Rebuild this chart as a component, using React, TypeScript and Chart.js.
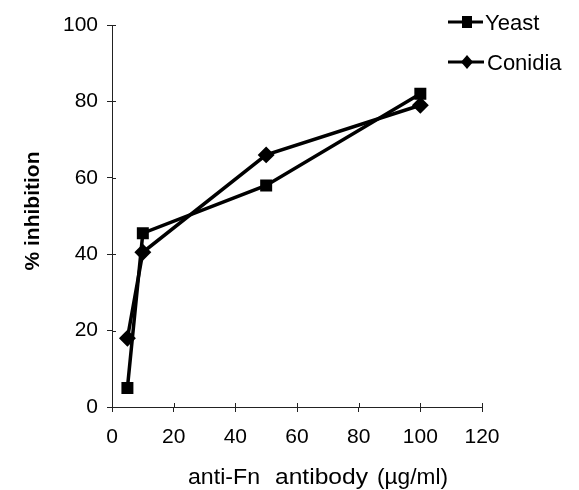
import React, { useEffect, useRef } from "react";
import { Chart, registerables } from "chart.js";

Chart.register(...registerables);

const doses = [5, 10, 50, 100];
const yeastValues = [5, 45.5, 58, 82];
const conidiaValues = [18, 40.5, 66, 79];
const xTicks = [0, 20, 40, 60, 80, 100, 120];
const yTicks = [0, 20, 40, 60, 80, 100];
const seriesNames = ["Yeast", "Conidia"];
const xTitleParts = ["anti-Fn", "antibody", "(\u00b5g/ml)"];
const yTitle = "% inhibition";

const FONT = "'Liberation Sans', Arial, sans-serif";

function drawFit(ctx: any, text: string, left: number, width: number, y: number) {
  const w = ctx.measureText(text).width;
  ctx.save();
  ctx.translate(left, y);
  ctx.scale(width / w, 1);
  ctx.fillText(text, 0, 0);
  ctx.restore();
}

const decorPlugin = {
  id: "decor",
  afterDraw(chart: any) {
    const ctx = chart.ctx;
    const xs = chart.scales.x;
    const ys = chart.scales.y;
    const area = chart.chartArea;
    ctx.save();
    // inner tick marks
    ctx.strokeStyle = "#222";
    ctx.lineWidth = 1;
    yTicks.forEach((v) => {
      const py = Math.round(ys.getPixelForValue(v)) + 0.5;
      ctx.beginPath();
      ctx.moveTo(area.left, py);
      ctx.lineTo(area.left + 4, py);
      ctx.stroke();
    });
    xTicks.forEach((v) => {
      const px = Math.round(xs.getPixelForValue(v)) + 0.5;
      ctx.beginPath();
      ctx.moveTo(px, area.bottom);
      ctx.lineTo(px, area.bottom - 4);
      ctx.stroke();
    });
    // x axis title
    ctx.fillStyle = "#000";
    ctx.font = `22px ${FONT}`;
    ctx.textAlign = "left";
    ctx.textBaseline = "alphabetic";
    drawFit(ctx, xTitleParts[0], 188, 72, 484);
    drawFit(ctx, xTitleParts[1], 275, 93, 484);
    drawFit(ctx, xTitleParts[2], 377, 71, 484);
    // y axis title
    ctx.save();
    ctx.translate(33, 211);
    ctx.rotate(-Math.PI / 2);
    ctx.textAlign = "center";
    ctx.textBaseline = "middle";
    ctx.font = `bold 21px ${FONT}`;
    ctx.fillText(yTitle, 0, 0);
    ctx.restore();
    // legend
    const rows = [
      { name: seriesNames[0], y: 22, lineEnd: 483, textX: 485, marker: "rect" },
      { name: seriesNames[1], y: 62, lineEnd: 484, textX: 487, marker: "diamond" },
    ];
    ctx.font = `22px ${FONT}`;
    ctx.textAlign = "left";
    ctx.textBaseline = "alphabetic";
    rows.forEach((r) => {
      ctx.strokeStyle = "#000";
      ctx.lineWidth = 3;
      ctx.beginPath();
      ctx.moveTo(448, r.y);
      ctx.lineTo(r.lineEnd, r.y);
      ctx.stroke();
      ctx.fillStyle = "#000";
      if (r.marker === "rect") {
        ctx.fillRect(462, r.y - 6, 10, 12);
      } else {
        ctx.beginPath();
        ctx.moveTo(467, r.y - 7);
        ctx.lineTo(473, r.y);
        ctx.lineTo(467, r.y + 7);
        ctx.lineTo(461, r.y);
        ctx.closePath();
        ctx.fill();
      }
      ctx.fillText(r.name, r.textX, r.y + 8);
    });
    ctx.restore();
  },
};

export default function App() {
  const ref = useRef<HTMLCanvasElement>(null);
  useEffect(() => {
    if (!ref.current) return;
    const chart = new Chart(ref.current, {
      type: "line",
      data: {
        datasets: [
          {
            label: seriesNames[0],
            data: doses.map((d, i) => ({ x: d, y: yeastValues[i] })),
            borderColor: "#000",
            backgroundColor: "#000",
            borderWidth: 3.5,
            pointStyle: "rect",
            pointRadius: 6,
            pointHoverRadius: 6,
          },
          {
            label: seriesNames[1],
            data: doses.map((d, i) => ({ x: d, y: conidiaValues[i] })),
            borderColor: "#000",
            backgroundColor: "#000",
            borderWidth: 3.5,
            pointStyle: "rectRot",
            pointRadius: 6,
            pointHoverRadius: 6,
          },
        ],
      },
      options: {
        animation: false,
        responsive: false,
        layout: { padding: { left: 0, right: 97, top: 25, bottom: 0 } },
        plugins: { legend: { display: false }, tooltip: { enabled: false } },
        scales: {
          x: {
            type: "linear",
            min: 0,
            max: 120,
            afterBuildTicks: (s: any) => {
              s.ticks = xTicks.map((v) => ({ value: v }));
            },
            afterFit: (s: any) => {
              s.height = 83;
            },
            grid: { drawOnChartArea: false, tickLength: 5, color: "#222" },
            border: { color: "#222", width: 1 },
            ticks: {
              color: "#000",
              padding: 13,
              font: { family: FONT, size: 21 },
            },
          },
          y: {
            type: "linear",
            min: 0,
            max: 100,
            afterBuildTicks: (s: any) => {
              s.ticks = yTicks.map((v) => ({ value: v }));
            },
            afterFit: (s: any) => {
              s.width = 112;
            },
            grid: { drawOnChartArea: false, tickLength: 5, color: "#222" },
            border: { color: "#222", width: 1 },
            ticks: {
              color: "#000",
              padding: 9,
              font: { family: FONT, size: 21 },
            },
          },
        },
      },
      plugins: [decorPlugin],
    });
    return () => chart.destroy();
  }, []);
  return (
    <div style={{ position: "fixed", left: 0, top: 0, width: 579, height: 490, background: "#fff" }}>
      <canvas ref={ref} width={579} height={490} style={{ display: "block" }} />
    </div>
  );
}
